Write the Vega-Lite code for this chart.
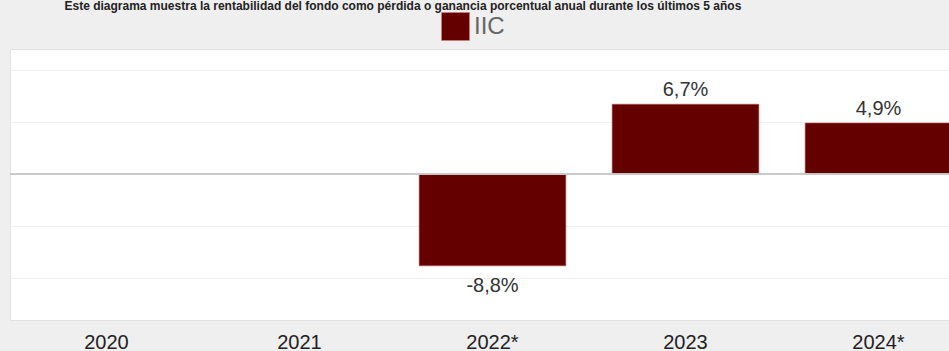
{
  "$schema": "https://vega.github.io/schema/vega-lite/v6.json",
  "autosize": "none",
  "width": 939,
  "height": 271,
  "padding": {"left": 10, "top": 49, "right": 0, "bottom": 31},
  "background": "#efefef",
  "title": {
    "text": "Este diagrama muestra la rentabilidad del fondo como pérdida o ganancia porcentual anual durante los últimos 5 años",
    "anchor": "start",
    "dx": 55,
    "dy": 10,
    "offset": 0,
    "baseline": "alphabetic",
    "font": "Liberation Sans",
    "fontSize": 12,
    "fontWeight": "bold",
    "color": "#222222"
  },
  "config": {
    "locale": {"number": {"decimal": ",", "thousands": ".", "grouping": [3], "currency": ["", " €"], "minus": "-"}},
    "view": {"fill": "white", "stroke": "#e2e2e2"},
    "font": "Liberation Sans"
  },
  "data": {
    "values": [
      {"year": "2020", "value": null, "serie": "IIC"},
      {"year": "2021", "value": null, "serie": "IIC"},
      {"year": "2022*", "value": -0.088, "serie": "IIC"},
      {"year": "2023", "value": 0.067, "serie": "IIC"},
      {"year": "2024*", "value": 0.049, "serie": "IIC"}
    ]
  },
  "encoding": {
    "x": {
      "field": "year",
      "type": "nominal",
      "sort": null,
      "scale": {"domain": ["2020", "2021", "2022*", "2023", "2024*"], "range": [0, 965], "paddingInner": 0.24, "paddingOuter": 0.12},
      "axis": {"title": null, "domain": false, "ticks": false, "labelAngle": 0, "labelFontSize": 20, "labelColor": "#222222", "labelPadding": 12, "labelFont": "Liberation Sans"}
    }
  },
  "layer": [
    {
      "mark": {"type": "bar", "stroke": "#b35050", "strokeWidth": 1, "strokeOpacity": 0.6},
      "encoding": {
        "y": {
          "field": "value",
          "type": "quantitative",
          "scale": {"domain": [-0.14, 0.12], "nice": false, "zero": false},
          "axis": {"title": null, "labels": false, "ticks": false, "domain": false, "grid": true, "gridColor": "#efefef", "values": [-0.1, -0.05, 0.05, 0.1]}
        },
        "color": {
          "field": "serie",
          "type": "nominal",
          "scale": {"range": ["#650000"]},
          "legend": {
            "title": null,
            "orient": "none",
            "legendX": 431,
            "legendY": -37,
            "padding": 0,
            "symbolType": "square",
            "symbolSize": 784,
            "symbolStrokeColor": "#e08080",
            "symbolStrokeWidth": 0.5,
            "labelFontSize": 24,
            "labelColor": "#666666",
            "labelFont": "Liberation Sans",
            "labelOffset": 4
          }
        }
      }
    },
    {
      "mark": {"type": "rule", "color": "#c8c8c8", "strokeWidth": 1},
      "encoding": {"y": {"datum": 0, "type": "quantitative"}, "x": {"value": 0}, "x2": {"value": 965}}
    },
    {
      "transform": [{"filter": "datum.value >= 0"}],
      "mark": {"type": "text", "baseline": "alphabetic", "dy": -8, "fontSize": 20, "color": "#333333", "font": "Liberation Sans"},
      "encoding": {
        "y": {"field": "value", "type": "quantitative"},
        "text": {"field": "value", "type": "quantitative", "format": ".1%"}
      }
    },
    {
      "transform": [{"filter": "datum.value < 0"}],
      "mark": {"type": "text", "baseline": "top", "dy": 10, "fontSize": 20, "color": "#333333", "font": "Liberation Sans"},
      "encoding": {
        "y": {"field": "value", "type": "quantitative"},
        "text": {"field": "value", "type": "quantitative", "format": ".1%"}
      }
    }
  ]
}
